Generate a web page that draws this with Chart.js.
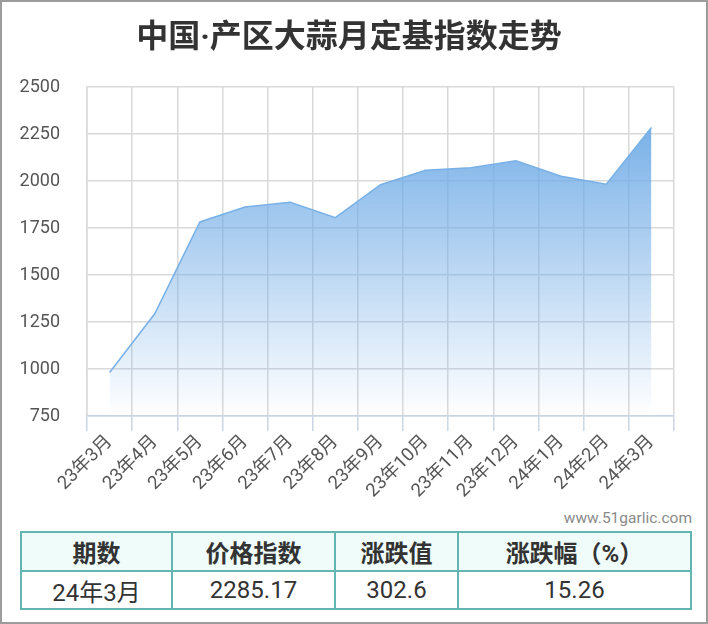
<!DOCTYPE html>
<html>
<head>
<meta charset="utf-8">
<script src="https://cdn.jsdelivr.net/npm/chart.js@4/dist/chart.umd.min.js"></script>
<style>
  html,body{margin:0;padding:0;background:#fff;}
  #wrap{position:relative;width:704px;height:620px;border:2px solid #9c9c9c;background:#fff;overflow:hidden;}
  #cv{position:absolute;left:-2px;top:-2px;}
  #title{position:absolute;left:-2px;width:698px;top:14px;text-align:center;font-family:Roboto,"Noto Sans CJK SC",sans-serif;font-weight:bold;font-size:32px;line-height:40px;color:#333;}
  #wm{position:absolute;right:14px;top:507px;font-family:Roboto,"Noto Sans",sans-serif;font-size:15.5px;color:#8a8a8a;}
  table{position:absolute;left:18px;top:529px;border-collapse:collapse;font-family:Roboto,"Noto Sans CJK SC",sans-serif;color:#333;}
  td,th{border:2px solid #62b5b0;text-align:center;font-size:24px;padding:0;}
  th{background:#effcf9;font-weight:bold;height:37px;}
  td{height:36px;}
</style>
</head>
<body>
<div id="wrap">
  <canvas id="cv" width="708" height="505"></canvas>
  <div id="title"></div>
  <div id="wm">www.51garlic.com</div>
  <table>
    <tr><th style="width:149px">期数</th><th style="width:161px">价格指数</th><th style="width:121px">涨跌值</th><th style="width:231px">涨跌幅（%）</th></tr>
    <tr><td>24年3月</td><td>2285.17</td><td>302.6</td><td>15.26</td></tr>
  </table>
</div>
<script>
const titleText = "中国·产区大蒜月定基指数走势";
const categories = ["23年3月","23年4月","23年5月","23年6月","23年7月","23年8月","23年9月","23年10月","23年11月","23年12月","24年1月","24年2月","24年3月"];
const indexValues = [981, 1294, 1782, 1862, 1887, 1805, 1980, 2057, 2071, 2108, 2025, 1983, 2285];
const yTicks = [750, 1000, 1250, 1500, 1750, 2000, 2250, 2500];

document.getElementById('title').textContent = titleText;

const ctx = document.getElementById('cv').getContext('2d');
new Chart(ctx, {
  type: 'line',
  data: {
    labels: categories,
    datasets: [{
      data: indexValues,
      borderColor: '#78b1e7',
      borderWidth: 1.5,
      pointRadius: 0,
      tension: 0,
      fill: 'start',
      backgroundColor: (c) => {
        const area = c.chart.chartArea;
        if (!area) return 'rgba(120,175,230,0.5)';
        const g = c.chart.ctx.createLinearGradient(0, area.top + 40, 0, area.bottom);
        g.addColorStop(0, 'rgba(110,170,230,0.92)');
        g.addColorStop(1, 'rgba(110,170,230,0.0)');
        return g;
      }
    }]
  },
  options: {
    responsive: false,
    animation: false,
    layout: { padding: { left: 0, right: 34, top: 87, bottom: 0 } },
    plugins: {
      legend: { display: false },
      tooltip: { enabled: false },
      title: { display: false }
    },
    scales: {
      x: {
        offset: true,
        grid: { offset: true, color: '#d9d9d9', tickColor: '#c8d6e6', lineWidth: 1.5, tickLength: 15 },
        border: { color: '#c8d4e2', width: 1.5 },
        ticks: {
          minRotation: 45, maxRotation: 45, color: '#555', padding: 0,
          font: { size: 18.5, family: 'Roboto, "Noto Sans CJK SC", sans-serif' }
        },
        afterFit: (s) => { s.height = 89; }
      },
      y: {
        min: 750, max: 2500,
        afterBuildTicks: (s) => { s.ticks = yTicks.map(v => ({ value: v })); },
        grid: { color: '#d9d9d9', lineWidth: 1.5, drawTicks: false },
        border: { color: '#d9d9d9', width: 1.5 },
        ticks: {
          color: '#555', padding: 27,
          font: { size: 18, family: 'Roboto, "Noto Sans", sans-serif' },
          callback: (v) => String(v)
        },
        afterFit: (s) => { s.width = 87; }
      }
    }
  }
});
</script>
</body>
</html>
